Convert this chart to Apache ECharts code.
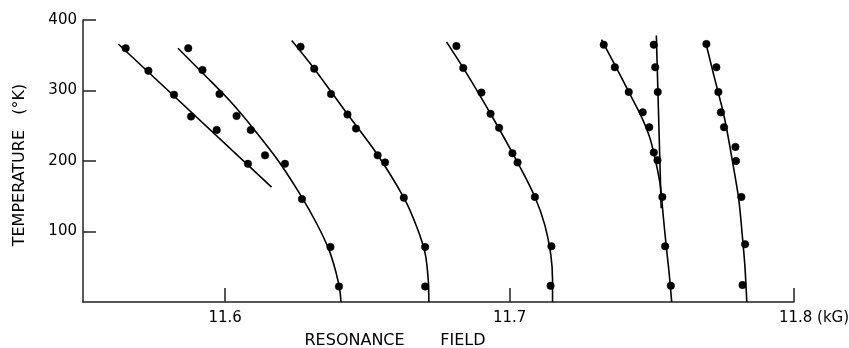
<!DOCTYPE html>
<html>
<head>
<meta charset="utf-8">
<script src="https://cdn.jsdelivr.net/npm/echarts@6/dist/echarts.min.js"></script>
<style>
  html, body { margin: 0; padding: 0; background: #fff; }
  #chart { width: 849px; height: 348px; }
</style>
</head>
<body>
<div id="chart"></div>
<script>
// Tick values / labels
const xTicks = [11.6, 11.7, 11.8];
const yTicks = [100, 200, 300, 400];
const xUnit = '(kG)';
const xTitle = 'RESONANCE       FIELD';
const yTitle = 'TEMPERATURE   (°K)';

// Measured points [field kG, temperature K]
const ptsA = [[11.565,360],[11.573,328],[11.582,294],[11.588,263],[11.597,244],[11.608,196]];
const ptsB = [[11.587,360],[11.592,329],[11.598,295],[11.604,264],[11.609,244],[11.614,208],[11.621,196],[11.627,146],[11.637,78],[11.640,22]];
const ptsC = [[11.6265,362],[11.6313,331],[11.6372,295],[11.6430,266],[11.6460,246],[11.6536,208],[11.6562,198],[11.6628,148],[11.6703,78],[11.6703,22]];
const ptsD = [[11.6813,363],[11.6837,332],[11.6901,297],[11.6933,267],[11.6963,247],[11.7010,211],[11.7028,198],[11.7089,149],[11.7147,79],[11.7144,23]];
const ptsE = [[11.7331,365],[11.7370,333],[11.7419,298],[11.7468,269],[11.7491,248],[11.7507,212],[11.7520,201],[11.7537,149],[11.7547,79],[11.7567,23]];
const ptsF = [[11.7507,365],[11.7512,333],[11.7521,298]];
const ptsG = [[11.7692,366],[11.7727,333],[11.7734,298],[11.7743,269],[11.7754,248],[11.7794,220],[11.7796,200],[11.7815,149],[11.7828,82],[11.7819,24]];

// Drawn curves
const fitA = [[11.5624,366],[11.6163,163]];
const fitB = [[11.5834,360],[11.5925,323],[11.6017,285],[11.6105,243],[11.6189,199],[11.6263,153],[11.6322,111],[11.6365,74],[11.6389,43],[11.6403,17],[11.6407,0]];
const fitC = [[11.6234,371],[11.6313,331],[11.6427,268],[11.6532,211],[11.6628,148],[11.6673,107],[11.6703,69],[11.6714,31],[11.6716,0]];
const fitD = [[11.6778,369],[11.6837,332],[11.6933,267],[11.7028,198],[11.7089,149],[11.7124,109],[11.7145,67],[11.7151,31],[11.7151,0]];
const fitE = [[11.7323,372],[11.7372,335],[11.7419,298],[11.7461,265],[11.7493,233],[11.7514,199],[11.7530,165],[11.7540,123],[11.7550,82],[11.7561,41],[11.7570,0]];
const fitF = [[11.7516,378],[11.7533,133]];
const fitG = [[11.7689,369],[11.7711,333],[11.7733,298],[11.7750,271],[11.7764,244],[11.7786,194],[11.7806,145],[11.7818,95],[11.7827,53],[11.7832,17],[11.7834,0]];

const fits = [fitA, fitB, fitC, fitD, fitE, fitF, fitG];
const pts = [ptsA, ptsB, ptsC, ptsD, ptsE, ptsF, ptsG];

const INK = '#000';
const FONT = 'DejaVu Sans';

const series = [];
fits.forEach(function (d) {
  series.push({
    type: 'line', data: d, showSymbol: false, smooth: d.length > 2 ? 0.3 : false,
    lineStyle: { color: INK, width: 1.6 }, silent: true, z: 2
  });
});
pts.forEach(function (d) {
  series.push({
    type: 'scatter', data: d, symbol: 'circle', symbolSize: 7.5,
    itemStyle: { color: INK, borderColor: INK, borderWidth: 0.5, opacity: 1 }, z: 3
  });
});

const chart = echarts.init(document.getElementById('chart'), null, { renderer: 'canvas' });
chart.setOption({
  animation: false,
  backgroundColor: '#fff',
  grid: { left: 83, right: 55, top: 20, bottom: 46, containLabel: false, outerBoundsMode: 'none' },
  xAxis: {
    type: 'value', min: 11.55, max: 11.8,
    axisLine: { show: true, onZero: false, lineStyle: { color: '#222', width: 1.5 } },
    axisTick: { show: true, inside: true, length: 14, customValues: xTicks, lineStyle: { color: '#222', width: 1.5 } },
    axisLabel: {
      customValues: xTicks, margin: 9, color: INK, fontFamily: FONT, fontSize: 15,
      formatter: function (v) {
        const s = v.toFixed(1);
        if (Math.abs(v - 11.8) < 1e-6) return '{pad|}{v|' + s + '}{v| ' + xUnit + '}';
        return '{v|' + s + '}';
      },
      rich: {
        v: { fontFamily: FONT, fontSize: 15, color: INK },
        pad: { width: 40 }
      }
    },
    splitLine: { show: false },
    name: xTitle, nameLocation: 'middle', nameGap: 31,
    nameTextStyle: { fontFamily: FONT, fontSize: 16, color: INK, padding: [0, 87, 0, 0] }
  },
  yAxis: {
    type: 'value', min: 0, max: 400,
    axisLine: { show: true, onZero: false, lineStyle: { color: '#222', width: 1.5 } },
    axisTick: { show: true, inside: true, length: 13, customValues: yTicks, lineStyle: { color: '#222', width: 1.5 } },
    axisLabel: { customValues: yTicks, margin: 6, color: INK, fontFamily: FONT, fontSize: 15 },
    splitLine: { show: false },
    name: yTitle, nameLocation: 'middle', nameGap: 55, nameRotate: 90,
    nameTextStyle: { fontFamily: FONT, fontSize: 16, color: INK, padding: [0, 8, 0, 0] }
  },
  series: series
});
</script>
</body>
</html>
